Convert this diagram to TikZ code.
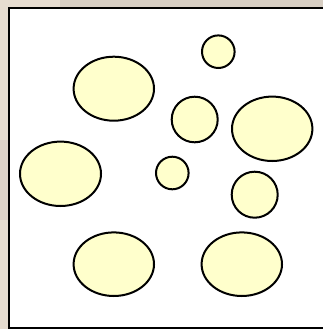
\documentclass[tikz,border=0pt]{standalone}
\definecolor{bgtex}{HTML}{E6DCD0}
\definecolor{bgdark}{HTML}{C9C1B8}
\definecolor{cellfill}{HTML}{FFFFCC}
\tikzset{
  cell/.style={draw=black, line width=2pt, fill=cellfill},
  frame/.style={draw=black, line width=2pt, fill=white}
}
\begin{document}
\begin{tikzpicture}[x=1pt,y=-1pt]
\useasboundingbox (0,0) rectangle (323,329);
\fill[bgtex] (0,0) rectangle (323,329);
\fill[bgdark, opacity=0.5] (60,0) rectangle (323,8);
\fill[bgdark, opacity=0.3] (0,140) rectangle (9,220);
\clip (0,0) rectangle (323,329);
\path[frame] (9,8) rectangle (326,328);
\path[cell] (218.3,51.7) ellipse [x radius=16.3, y radius=16.3];
\path[cell] (113.8,88.7) ellipse [x radius=40.2, y radius=32];
\path[cell] (194.7,119.5) ellipse [x radius=23, y radius=22.8];
\path[cell] (272.2,128.8) ellipse [x radius=40.2, y radius=32.2];
\path[cell] (60.5,173.8) ellipse [x radius=40.5, y radius=32.2];
\path[cell] (172.3,173) ellipse [x radius=16.3, y radius=16.3];
\path[cell] (254.7,194.7) ellipse [x radius=23, y radius=23];
\path[cell] (113.8,264.2) ellipse [x radius=40.2, y radius=31.8];
\path[cell] (241.8,264.2) ellipse [x radius=40.2, y radius=31.8];
\end{tikzpicture}
\end{document}
